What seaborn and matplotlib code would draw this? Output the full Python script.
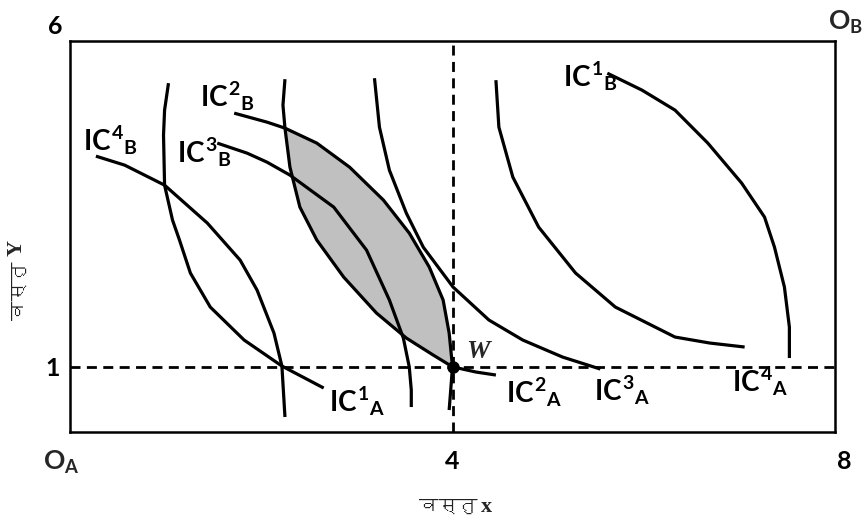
import matplotlib
matplotlib.use("Agg")
import numpy as np
import pandas as pd
import matplotlib.pyplot as plt
import seaborn as sns
from matplotlib import font_manager

# ---------------- data (box is 8 x 6 units) ----------------
ic1a_x = [1.030, 0.989, 0.978, 0.989, 1.072, 1.145, 1.259, 1.467, 1.821, 2.216, 2.653]
ic1a_y = [5.353, 4.939, 4.555, 3.788, 3.252, 2.945, 2.439, 1.917, 1.411, 1.012, 0.675]

ic2a_x = [2.248, 2.227, 2.248, 2.300, 2.404, 2.581, 2.862, 3.205, 3.517, 3.798, 4.000, 4.246, 4.454]
ic2a_y = [5.414, 5.015, 4.663, 4.064, 3.451, 2.945, 2.377, 1.825, 1.442, 1.181, 1.000, 0.920, 0.874]

ic3a_x = [3.184, 3.236, 3.340, 3.517, 3.694, 4.006, 4.381, 4.735, 5.151, 5.546]
ic3a_y = [5.429, 4.678, 4.018, 3.359, 2.837, 2.224, 1.718, 1.411, 1.150, 0.966]

ic4a_x = [4.454, 4.485, 4.631, 4.901, 5.287, 5.703, 6.327, 6.691, 7.055]
ic4a_y = [5.399, 4.678, 3.911, 3.144, 2.439, 1.917, 1.457, 1.365, 1.304]

ic1b_x = [5.619, 5.983, 6.327, 6.670, 7.024, 7.263, 7.367, 7.471, 7.523, 7.523]
ic1b_y = [5.506, 5.245, 4.939, 4.433, 3.819, 3.298, 2.837, 2.224, 1.610, 1.135]

ic2b_x = [1.717, 2.060, 2.248, 2.581, 2.924, 3.278, 3.548, 3.757, 3.902, 3.965, 4.000, 3.965]
ic2b_y = [4.893, 4.755, 4.663, 4.433, 4.064, 3.558, 3.052, 2.531, 2.025, 1.518, 1.000, 0.337]

ic3b_x = [1.540, 1.852, 2.060, 2.300, 2.758, 3.101, 3.340, 3.486, 3.548, 3.569, 3.569]
ic3b_y = [4.433, 4.279, 4.141, 3.942, 3.451, 2.791, 2.025, 1.442, 0.997, 0.644, 0.383]

ic4b_x = [0.271, 0.572, 0.989, 1.436, 1.779, 1.956, 2.133, 2.216, 2.248]
ic4b_y = [4.233, 4.095, 3.788, 3.206, 2.638, 2.178, 1.518, 1.012, 0.230]

endow_x = [4.0]
endow_y = [1.0]
box_x = [0, 8]
box_y = [0, 6]

curve_names = ["IC1A", "IC2A", "IC3A", "IC4A", "IC1B", "IC2B", "IC3B", "IC4B"]
curve_xs = [ic1a_x, ic2a_x, ic3a_x, ic4a_x, ic1b_x, ic2b_x, ic3b_x, ic4b_x]
curve_ys = [ic1a_y, ic2a_y, ic3a_y, ic4a_y, ic1b_y, ic2b_y, ic3b_y, ic4b_y]
curve_labels = [r"$IC^{1}{}_{A}$", r"$IC^{2}{}_{A}$", r"$IC^{3}{}_{A}$", r"$IC^{4}{}_{A}$",
                r"$IC^{1}{}_{B}$", r"$IC^{2}{}_{B}$", r"$IC^{3}{}_{B}$", r"$IC^{4}{}_{B}$"]
label_pos = [(2.708, 0.322), (4.559, 0.460), (5.480, 0.491), (6.923, 0.614),
             (5.156, 5.309), (1.359, 5.002), (1.119, 4.143), (0.136, 4.327)]

x_word = "वस्तु"
x_letter = "x"
y_letter = "Y"

# ---------------- fonts ----------------
def find_font(ch):
    try:
        from fontTools.ttLib import TTFont
    except Exception:
        return None
    seen = set()
    for f in font_manager.fontManager.ttflist:
        if f.fname in seen:
            continue
        seen.add(f.fname)
        try:
            tt = TTFont(f.fname, fontNumber=0, lazy=True)
            cmap = tt.getBestCmap()
            if cmap and ord(ch) in cmap:
                return f.name
        except Exception:
            continue
    return None

sns.set_theme(style="white")
dev_font = find_font("व")
plt.rcParams["font.family"] = ["Lato", "DejaVu Sans"]
plt.rcParams["mathtext.fontset"] = "custom"
plt.rcParams["mathtext.rm"] = "Lato:bold"
plt.rcParams["mathtext.it"] = "Lato:bold"
plt.rcParams["mathtext.bf"] = "Lato:bold"

# ---------------- figure ----------------
W, H = 864, 523
fig = plt.figure(figsize=(W / 100, H / 100), dpi=100)
ax = fig.add_axes([70 / W, 91 / H, 765 / W, 391 / H])

rows = []
for name, xs, ys in zip(curve_names, curve_xs, curve_ys):
    for i, (xv, yv) in enumerate(zip(xs, ys)):
        rows.append({"curve": name, "order": i, "x": xv, "y": yv})
df = pd.DataFrame(rows)

# shaded lens between IC2B (upper) and IC2A (lower), from their upper crossing to W
lens_x = ic2b_x[2:11] + ic2a_x[2:11][::-1]
lens_y = ic2b_y[2:11] + ic2a_y[2:11][::-1]
ax.fill(lens_x, lens_y, color="#c0c0c0", zorder=1, lw=0)

sns.lineplot(data=df, x="x", y="y", units="curve", estimator=None, sort=False,
             color="black", lw=2.3, ax=ax, zorder=3, legend=False)
for ln in ax.lines:
    ln.set_solid_capstyle("butt")
    ln.set_solid_joinstyle("round")

ax.axhline(endow_y[0], color="black", lw=2.0, ls=(0, (3.6, 2.3)), zorder=2)
ax.axvline(endow_x[0], color="black", lw=2.0, ls=(0, (3.6, 2.3)), zorder=2)
ax.plot(endow_x, endow_y, "o", color="black", ms=8, zorder=5)

ax.set_xlim(box_x)
ax.set_ylim(box_y)
ax.set_xticks([])
ax.set_yticks([])
ax.set_xlabel("")
ax.set_ylabel("")
for sp in ax.spines.values():
    sp.set_visible(True)
    sp.set_color("black")
    sp.set_linewidth(1.8)

for lab, (lx, ly) in zip(curve_labels, label_pos):
    ax.text(lx, ly, lab, fontsize=20, ha="left", va="baseline", color="black", zorder=6)

ax.text(4.14, 1.135, "W", fontsize=19, fontstyle="italic", fontweight="bold",
        family=["Liberation Serif", "DejaVu Serif"], ha="left", va="baseline")

bold = dict(fontsize=18, fontweight="bold", color="black", clip_on=False)
ax.text(-0.157, 6.23, "6", ha="center", va="center", **bold)
ax.text(-0.178, 0.982, "1", ha="center", va="center", **bold)
ax.text(4.0, -0.46, "4", ha="center", va="center", **bold)
ax.text(8.10, -0.46, "8", ha="center", va="center", **bold)
ax.text(-0.282, -0.583, r"$O_{A}$", fontsize=19, ha="left", va="baseline", clip_on=False)
ax.text(7.93, 6.17, r"$O_{B}$", fontsize=19, ha="left", va="baseline", clip_on=False)

dev_family = [dev_font, "DejaVu Sans"] if dev_font else ["DejaVu Sans"]
fig.text(477 / W, 1 - 512 / H, x_word, fontsize=14, family=dev_family,
         ha="right", va="baseline", color="#222222")
fig.text(481 / W, 1 - 512 / H, x_letter, fontsize=16, fontweight="bold",
         family=["Liberation Serif", "DejaVu Serif"], ha="left", va="baseline")
fig.text(27 / W, 1 - 262 / H, x_word, fontsize=14, family=dev_family, rotation=90,
         ha="right", va="top", color="#222222")
fig.text(27 / W, 1 - 256 / H, y_letter, fontsize=16, fontweight="bold", rotation=90,
         family=["Liberation Serif", "DejaVu Serif"], ha="right", va="bottom")

fig.savefig("out.png", dpi=100)
